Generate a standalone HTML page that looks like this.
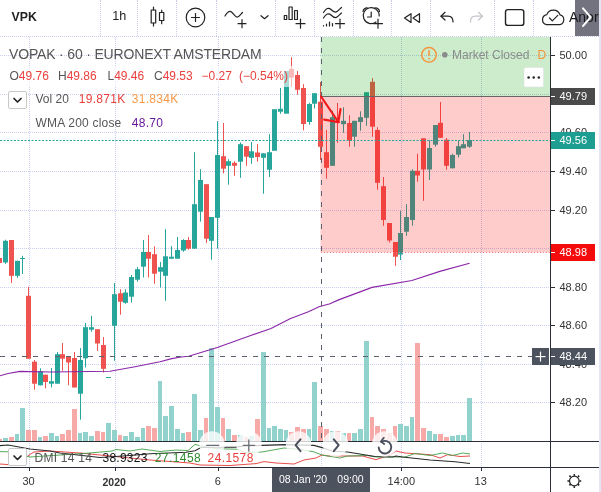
<!DOCTYPE html>
<html lang="en"><head><meta charset="utf-8"><title>VPK chart</title>
<style>
*{box-sizing:border-box;margin:0;padding:0}
html,body{width:601px;height:492px;overflow:hidden;background:#fff}
body{position:relative;font-family:"Liberation Sans",sans-serif;color:#333}
.chart{position:absolute;left:0;top:0}
.t{position:absolute;white-space:nowrap;line-height:1}
.toolbar{position:absolute;left:0;top:0;width:601px;height:37px;background:#fff;border-bottom:1px dotted #c9cbe8}
.sep{position:absolute;top:0;width:0;height:36px;border-left:1px dotted #c9cbe8}
.tbicons{position:absolute;left:0;top:0}
.more{position:absolute;left:575px;top:0;width:24px;height:36px;background:rgba(88,88,104,.84)}
.edge{position:absolute;left:599px;top:0;width:2px;height:492px;background:#e4e7f3}
.gray{color:#555}.red{color:#e8403c}.org{color:#f59a4a}.pur{color:#6a1b9a}.grn{color:#2e8b32}
.lbtn{position:absolute;width:19px;height:18px;border:1px solid #c8c8c8;border-radius:2px;background:#fff}
.plabel{position:absolute;left:551px;width:44px;height:17px;color:#fff;font-size:11px;line-height:17px;padding-left:8.5px}
.pl{position:absolute;left:559.5px;font-size:11px;line-height:1;color:#333}
.tl{position:absolute;top:476.4px;font-size:11px;line-height:1;color:#333;transform:translateX(-50%)}
.legbg{position:absolute;left:8px;top:66px;width:286.5px;height:21px;background:rgba(255,255,255,.6)}
</style></head>
<body>
<svg class="chart" width="601" height="492" viewBox="0 0 601 492">
<g stroke="#c9cff0" stroke-width="1" stroke-dasharray="1 1" shape-rendering="crispEdges">
<line x1="0" y1="55.5" x2="550" y2="55.5"/>
<line x1="0" y1="94.5" x2="550" y2="94.5"/>
<line x1="0" y1="132.5" x2="550" y2="132.5"/>
<line x1="0" y1="171.5" x2="550" y2="171.5"/>
<line x1="0" y1="210.5" x2="550" y2="210.5"/>
<line x1="0" y1="248.5" x2="550" y2="248.5"/>
<line x1="0" y1="287.5" x2="550" y2="287.5"/>
<line x1="0" y1="325.5" x2="550" y2="325.5"/>
<line x1="0" y1="364.5" x2="550" y2="364.5"/>
<line x1="0" y1="402.5" x2="550" y2="402.5"/>
<line x1="29.5" y1="37" x2="29.5" y2="468"/>
<line x1="115.5" y1="37" x2="115.5" y2="468"/>
<line x1="218.5" y1="37" x2="218.5" y2="468"/>
<line x1="401.5" y1="37" x2="401.5" y2="468"/>
<line x1="481.5" y1="37" x2="481.5" y2="468"/>
</g>
<g shape-rendering="crispEdges">
<rect x="0" y="439.2" width="2" height="1.8" fill="#f7a9a7"/>
<rect x="3" y="438.2" width="5" height="2.8" fill="#92d2cc"/>
<rect x="9" y="437.0" width="5" height="4.0" fill="#f7a9a7"/>
<rect x="15" y="434.0" width="4" height="7.0" fill="#92d2cc"/>
<rect x="20" y="407.8" width="5" height="33.2" fill="#92d2cc"/>
<rect x="26" y="430.0" width="5" height="11.0" fill="#f7a9a7"/>
<rect x="32" y="430.0" width="5" height="11.0" fill="#f7a9a7"/>
<rect x="38" y="437.0" width="4" height="4.0" fill="#92d2cc"/>
<rect x="43" y="435.8" width="5" height="5.2" fill="#f7a9a7"/>
<rect x="49" y="433.2" width="5" height="7.8" fill="#92d2cc"/>
<rect x="55" y="435.8" width="4" height="5.2" fill="#92d2cc"/>
<rect x="60" y="434.2" width="5" height="6.8" fill="#f7a9a7"/>
<rect x="66" y="430.0" width="5" height="11.0" fill="#f7a9a7"/>
<rect x="72" y="409.0" width="5" height="32.0" fill="#f7a9a7"/>
<rect x="78" y="433.2" width="4" height="7.8" fill="#92d2cc"/>
<rect x="83" y="432.0" width="5" height="9.0" fill="#92d2cc"/>
<rect x="89" y="436.2" width="5" height="4.8" fill="#92d2cc"/>
<rect x="95" y="431.0" width="5" height="10.0" fill="#f7a9a7"/>
<rect x="101" y="432.0" width="4" height="9.0" fill="#f7a9a7"/>
<rect x="106" y="423.2" width="5" height="17.8" fill="#92d2cc"/>
<rect x="112" y="430.0" width="5" height="11.0" fill="#92d2cc"/>
<rect x="118" y="435.0" width="4" height="6.0" fill="#f7a9a7"/>
<rect x="123" y="436.2" width="5" height="4.8" fill="#92d2cc"/>
<rect x="129" y="432.0" width="5" height="9.0" fill="#92d2cc"/>
<rect x="135" y="437.0" width="5" height="4.0" fill="#92d2cc"/>
<rect x="141" y="428.2" width="4" height="12.8" fill="#92d2cc"/>
<rect x="146" y="426.2" width="5" height="14.8" fill="#f7a9a7"/>
<rect x="152" y="428.2" width="5" height="12.8" fill="#f7a9a7"/>
<rect x="158" y="380.8" width="4" height="60.2" fill="#92d2cc"/>
<rect x="163" y="416.2" width="5" height="24.8" fill="#92d2cc"/>
<rect x="169" y="406.2" width="5" height="34.8" fill="#92d2cc"/>
<rect x="175" y="429.2" width="5" height="11.8" fill="#92d2cc"/>
<rect x="181" y="433.2" width="4" height="7.8" fill="#92d2cc"/>
<rect x="186" y="432.0" width="5" height="9.0" fill="#f7a9a7"/>
<rect x="192" y="394.0" width="5" height="47.0" fill="#92d2cc"/>
<rect x="198" y="430.0" width="5" height="11.0" fill="#92d2cc"/>
<rect x="204" y="418.2" width="4" height="22.8" fill="#f7a9a7"/>
<rect x="209" y="348.0" width="5" height="93.0" fill="#92d2cc"/>
<rect x="215" y="407.0" width="5" height="34.0" fill="#92d2cc"/>
<rect x="221" y="418.2" width="4" height="22.8" fill="#f7a9a7"/>
<rect x="226" y="429.2" width="5" height="11.8" fill="#92d2cc"/>
<rect x="232" y="435.0" width="5" height="6.0" fill="#f7a9a7"/>
<rect x="238" y="435.0" width="5" height="6.0" fill="#92d2cc"/>
<rect x="244" y="437.0" width="4" height="4.0" fill="#f7a9a7"/>
<rect x="249" y="436.0" width="5" height="5.0" fill="#92d2cc"/>
<rect x="255" y="419.2" width="5" height="21.8" fill="#f7a9a7"/>
<rect x="261" y="351.7" width="5" height="89.3" fill="#92d2cc"/>
<rect x="267" y="428.2" width="4" height="12.8" fill="#92d2cc"/>
<rect x="272" y="426.2" width="5" height="14.8" fill="#92d2cc"/>
<rect x="278" y="429.2" width="5" height="11.8" fill="#92d2cc"/>
<rect x="284" y="430.0" width="4" height="11.0" fill="#92d2cc"/>
<rect x="289" y="432.0" width="5" height="9.0" fill="#f7a9a7"/>
<rect x="295" y="427.0" width="5" height="14.0" fill="#f7a9a7"/>
<rect x="301" y="429.2" width="5" height="11.8" fill="#f7a9a7"/>
<rect x="307" y="429.2" width="4" height="11.8" fill="#92d2cc"/>
<rect x="312" y="382.0" width="5" height="59.0" fill="#92d2cc"/>
<rect x="318" y="426.2" width="5" height="14.8" fill="#f7a9a7"/>
<rect x="324" y="429.2" width="5" height="11.8" fill="#f7a9a7"/>
<rect x="330" y="431.2" width="4" height="9.8" fill="#92d2cc"/>
<rect x="335" y="431.2" width="5" height="9.8" fill="#f7a9a7"/>
<rect x="341" y="432.8" width="5" height="8.2" fill="#92d2cc"/>
<rect x="347" y="433.2" width="4" height="7.8" fill="#f7a9a7"/>
<rect x="352" y="433.2" width="5" height="7.8" fill="#92d2cc"/>
<rect x="358" y="429.2" width="5" height="11.8" fill="#92d2cc"/>
<rect x="364" y="341.2" width="5" height="99.8" fill="#92d2cc"/>
<rect x="370" y="417.0" width="4" height="24.0" fill="#f7a9a7"/>
<rect x="375" y="426.2" width="5" height="14.8" fill="#f7a9a7"/>
<rect x="381" y="429.2" width="5" height="11.8" fill="#f7a9a7"/>
<rect x="387" y="433.2" width="5" height="7.8" fill="#f7a9a7"/>
<rect x="393" y="426.2" width="4" height="14.8" fill="#f7a9a7"/>
<rect x="398" y="424.2" width="5" height="16.8" fill="#92d2cc"/>
<rect x="404" y="426.2" width="5" height="14.8" fill="#92d2cc"/>
<rect x="410" y="417.0" width="4" height="24.0" fill="#92d2cc"/>
<rect x="415" y="343.3" width="5" height="97.7" fill="#f7a9a7"/>
<rect x="421" y="428.2" width="5" height="12.8" fill="#f7a9a7"/>
<rect x="427" y="431.2" width="5" height="9.8" fill="#92d2cc"/>
<rect x="433" y="434.2" width="4" height="6.8" fill="#92d2cc"/>
<rect x="438" y="434.2" width="5" height="6.8" fill="#f7a9a7"/>
<rect x="444" y="437.0" width="5" height="4.0" fill="#f7a9a7"/>
<rect x="450" y="436.2" width="5" height="4.8" fill="#92d2cc"/>
<rect x="456" y="435.0" width="4" height="6.0" fill="#92d2cc"/>
<rect x="461" y="435.0" width="5" height="6.0" fill="#92d2cc"/>
<rect x="467" y="398.2" width="5" height="42.8" fill="#92d2cc"/>
</g>
<g>
<rect x="0" y="258.0" width="2" height="5.0" fill="#ef5350"/>
<rect x="5.0" y="239.7" width="1" height="24.1" fill="#26a69a"/>
<rect x="3" y="240.8" width="5" height="21.7" fill="#26a69a"/>
<rect x="11.0" y="240.0" width="1" height="43.0" fill="#ef5350"/>
<rect x="9" y="240.0" width="5" height="35.8" fill="#ef5350"/>
<rect x="17.0" y="260.8" width="1" height="17.0" fill="#26a69a"/>
<rect x="15" y="260.8" width="5" height="15.0" fill="#26a69a"/>
<rect x="22.0" y="255.8" width="1" height="18.2" fill="#26a69a"/>
<rect x="20" y="258.0" width="5" height="1.0" fill="#26a69a"/>
<rect x="28.0" y="286.7" width="1" height="72.0" fill="#ef5350"/>
<rect x="26" y="295.8" width="5" height="62.9" fill="#ef5350"/>
<rect x="34.0" y="360.0" width="1" height="29.7" fill="#ef5350"/>
<rect x="32" y="361.7" width="5" height="22.0" fill="#ef5350"/>
<rect x="40.0" y="368.3" width="1" height="17.0" fill="#26a69a"/>
<rect x="38" y="371.3" width="5" height="14.0" fill="#26a69a"/>
<rect x="45.0" y="374.7" width="1" height="13.6" fill="#ef5350"/>
<rect x="43" y="374.7" width="5" height="7.3" fill="#ef5350"/>
<rect x="51.0" y="368.0" width="1" height="19.5" fill="#26a69a"/>
<rect x="49" y="381.2" width="5" height="2.5" fill="#26a69a"/>
<rect x="57.0" y="352.0" width="1" height="31.7" fill="#26a69a"/>
<rect x="55" y="354.2" width="5" height="29.5" fill="#26a69a"/>
<rect x="62.0" y="343.0" width="1" height="27.8" fill="#ef5350"/>
<rect x="60" y="354.2" width="5" height="4.5" fill="#ef5350"/>
<rect x="68.0" y="356.2" width="1" height="29.1" fill="#ef5350"/>
<rect x="66" y="356.2" width="5" height="6.3" fill="#ef5350"/>
<rect x="74.0" y="352.0" width="1" height="35.5" fill="#ef5350"/>
<rect x="72" y="358.0" width="5" height="29.5" fill="#ef5350"/>
<rect x="80.0" y="348.0" width="1" height="71.7" fill="#26a69a"/>
<rect x="78" y="360.0" width="5" height="33.7" fill="#26a69a"/>
<rect x="85.0" y="323.0" width="1" height="44.5" fill="#26a69a"/>
<rect x="83" y="327.2" width="5" height="31.1" fill="#26a69a"/>
<rect x="91.0" y="315.8" width="1" height="15.9" fill="#26a69a"/>
<rect x="89" y="327.2" width="5" height="2.5" fill="#26a69a"/>
<rect x="97.0" y="329.2" width="1" height="21.6" fill="#ef5350"/>
<rect x="95" y="329.2" width="5" height="14.3" fill="#ef5350"/>
<rect x="103.0" y="337.0" width="1" height="35.5" fill="#ef5350"/>
<rect x="101" y="345.0" width="5" height="23.8" fill="#ef5350"/>
<rect x="106" y="377.0" width="5" height="1.0" fill="#26a69a"/>
<rect x="114.0" y="283.0" width="1" height="77.8" fill="#26a69a"/>
<rect x="112" y="294.2" width="5" height="31.6" fill="#26a69a"/>
<rect x="120.0" y="289.2" width="1" height="25.5" fill="#ef5350"/>
<rect x="118" y="293.3" width="5" height="8.4" fill="#ef5350"/>
<rect x="125.0" y="289.2" width="1" height="14.6" fill="#26a69a"/>
<rect x="123" y="292.5" width="5" height="10.3" fill="#26a69a"/>
<rect x="131.0" y="275.0" width="1" height="27.5" fill="#26a69a"/>
<rect x="129" y="277.0" width="5" height="19.7" fill="#26a69a"/>
<rect x="137.0" y="267.0" width="1" height="14.7" fill="#26a69a"/>
<rect x="135" y="269.2" width="5" height="10.5" fill="#26a69a"/>
<rect x="143.0" y="240.0" width="1" height="37.5" fill="#26a69a"/>
<rect x="141" y="252.0" width="5" height="14.7" fill="#26a69a"/>
<rect x="148.0" y="235.0" width="1" height="42.5" fill="#ef5350"/>
<rect x="146" y="252.0" width="5" height="6.7" fill="#ef5350"/>
<rect x="154.0" y="246.3" width="1" height="37.4" fill="#ef5350"/>
<rect x="152" y="254.2" width="5" height="19.5" fill="#ef5350"/>
<rect x="160.0" y="262.0" width="1" height="25.5" fill="#26a69a"/>
<rect x="158" y="267.2" width="5" height="4.5" fill="#26a69a"/>
<rect x="165.0" y="229.2" width="1" height="71.6" fill="#26a69a"/>
<rect x="163" y="256.3" width="5" height="19.5" fill="#26a69a"/>
<rect x="171.0" y="246.2" width="1" height="12.5" fill="#26a69a"/>
<rect x="169" y="256.7" width="5" height="2.0" fill="#26a69a"/>
<rect x="177.0" y="237.0" width="1" height="21.7" fill="#26a69a"/>
<rect x="175" y="250.0" width="5" height="8.7" fill="#26a69a"/>
<rect x="183.0" y="239.2" width="1" height="12.5" fill="#26a69a"/>
<rect x="181" y="240.0" width="5" height="10.5" fill="#26a69a"/>
<rect x="188.0" y="237.0" width="1" height="12.7" fill="#ef5350"/>
<rect x="186" y="240.0" width="5" height="8.7" fill="#ef5350"/>
<rect x="194.0" y="152.2" width="1" height="96.5" fill="#26a69a"/>
<rect x="192" y="204.2" width="5" height="44.5" fill="#26a69a"/>
<rect x="200.0" y="169.2" width="1" height="52.5" fill="#26a69a"/>
<rect x="198" y="180.0" width="5" height="31.7" fill="#26a69a"/>
<rect x="206.0" y="184.2" width="1" height="58.8" fill="#ef5350"/>
<rect x="204" y="184.2" width="5" height="54.5" fill="#ef5350"/>
<rect x="211.0" y="217.0" width="1" height="42.7" fill="#26a69a"/>
<rect x="209" y="217.0" width="5" height="23.8" fill="#26a69a"/>
<rect x="217.0" y="121.2" width="1" height="127.5" fill="#26a69a"/>
<rect x="215" y="155.0" width="5" height="62.8" fill="#26a69a"/>
<rect x="223.0" y="123.0" width="1" height="50.3" fill="#ef5350"/>
<rect x="221" y="156.2" width="5" height="12.5" fill="#ef5350"/>
<rect x="228.0" y="159.2" width="1" height="25.5" fill="#26a69a"/>
<rect x="226" y="161.2" width="5" height="4.6" fill="#26a69a"/>
<rect x="234.0" y="161.2" width="1" height="14.6" fill="#ef5350"/>
<rect x="232" y="162.8" width="5" height="3.0" fill="#ef5350"/>
<rect x="240.0" y="142.5" width="1" height="35.3" fill="#26a69a"/>
<rect x="238" y="144.2" width="5" height="17.5" fill="#26a69a"/>
<rect x="246.0" y="146.2" width="1" height="19.6" fill="#ef5350"/>
<rect x="244" y="146.2" width="5" height="10.5" fill="#ef5350"/>
<rect x="251.0" y="142.0" width="1" height="21.8" fill="#26a69a"/>
<rect x="249" y="151.3" width="5" height="6.5" fill="#26a69a"/>
<rect x="257.0" y="144.2" width="1" height="17.5" fill="#ef5350"/>
<rect x="255" y="152.5" width="5" height="4.5" fill="#ef5350"/>
<rect x="263.0" y="153.3" width="1" height="40.4" fill="#26a69a"/>
<rect x="261" y="153.3" width="5" height="4.5" fill="#26a69a"/>
<rect x="269.0" y="134.2" width="1" height="42.8" fill="#26a69a"/>
<rect x="267" y="152.2" width="5" height="17.5" fill="#26a69a"/>
<rect x="272" y="109.2" width="5" height="41.6" fill="#26a69a"/>
<rect x="280.0" y="88.0" width="1" height="25.7" fill="#26a69a"/>
<rect x="278" y="108.8" width="5" height="2.9" fill="#26a69a"/>
<rect x="284" y="71.0" width="5" height="42.7" fill="#26a69a"/>
<rect x="291.0" y="57.2" width="1" height="29.5" fill="#ef5350"/>
<rect x="289" y="68.9" width="5" height="8.7" fill="#ef5350"/>
<rect x="297.0" y="71.0" width="1" height="23.7" fill="#ef5350"/>
<rect x="295" y="75.0" width="5" height="14.8" fill="#ef5350"/>
<rect x="303.0" y="84.2" width="1" height="46.1" fill="#ef5350"/>
<rect x="301" y="88.0" width="5" height="36.0" fill="#ef5350"/>
<rect x="309.0" y="102.8" width="1" height="22.0" fill="#26a69a"/>
<rect x="307" y="104.0" width="5" height="18.0" fill="#26a69a"/>
<rect x="314.0" y="93.2" width="1" height="15.3" fill="#26a69a"/>
<rect x="312" y="93.2" width="5" height="10.5" fill="#26a69a"/>
<rect x="320.0" y="82.0" width="1" height="78.0" fill="#ef5350"/>
<rect x="318" y="101.7" width="5" height="45.1" fill="#ef5350"/>
<rect x="326.0" y="130.0" width="1" height="48.7" fill="#ef5350"/>
<rect x="324" y="152.2" width="5" height="15.6" fill="#ef5350"/>
<rect x="332.0" y="110.8" width="1" height="55.0" fill="#26a69a"/>
<rect x="330" y="117.2" width="5" height="48.6" fill="#26a69a"/>
<rect x="337.0" y="103.0" width="1" height="39.8" fill="#ef5350"/>
<rect x="335" y="121.5" width="5" height="1.5" fill="#ef5350"/>
<rect x="343.0" y="107.2" width="1" height="25.6" fill="#26a69a"/>
<rect x="341" y="120.8" width="5" height="3.4" fill="#26a69a"/>
<rect x="349.0" y="115.3" width="1" height="31.4" fill="#ef5350"/>
<rect x="347" y="123.0" width="5" height="17.3" fill="#ef5350"/>
<rect x="354.0" y="120.8" width="1" height="25.9" fill="#26a69a"/>
<rect x="352" y="120.8" width="5" height="15.9" fill="#26a69a"/>
<rect x="360.0" y="111.3" width="1" height="19.5" fill="#26a69a"/>
<rect x="358" y="117.2" width="5" height="4.8" fill="#26a69a"/>
<rect x="366.0" y="92.2" width="1" height="33.6" fill="#26a69a"/>
<rect x="364" y="92.2" width="5" height="25.6" fill="#26a69a"/>
<rect x="372.0" y="78.0" width="1" height="58.7" fill="#ef5350"/>
<rect x="370" y="81.8" width="5" height="44.9" fill="#ef5350"/>
<rect x="377.0" y="127.2" width="1" height="62.5" fill="#ef5350"/>
<rect x="375" y="130.0" width="5" height="52.8" fill="#ef5350"/>
<rect x="383.0" y="177.0" width="1" height="48.8" fill="#ef5350"/>
<rect x="381" y="186.2" width="5" height="33.8" fill="#ef5350"/>
<rect x="389.0" y="223.0" width="1" height="19.5" fill="#ef5350"/>
<rect x="387" y="223.0" width="5" height="17.5" fill="#ef5350"/>
<rect x="395.0" y="242.0" width="1" height="23.8" fill="#ef5350"/>
<rect x="393" y="242.0" width="5" height="14.7" fill="#ef5350"/>
<rect x="400.0" y="210.8" width="1" height="49.2" fill="#26a69a"/>
<rect x="398" y="233.0" width="5" height="21.5" fill="#26a69a"/>
<rect x="406.0" y="204.2" width="1" height="31.6" fill="#26a69a"/>
<rect x="404" y="217.0" width="5" height="14.7" fill="#26a69a"/>
<rect x="412.0" y="169.2" width="1" height="56.6" fill="#26a69a"/>
<rect x="410" y="170.8" width="5" height="49.2" fill="#26a69a"/>
<rect x="417.0" y="153.7" width="1" height="28.0" fill="#ef5350"/>
<rect x="415" y="170.8" width="5" height="4.7" fill="#ef5350"/>
<rect x="423.0" y="138.3" width="1" height="62.5" fill="#ef5350"/>
<rect x="421" y="138.3" width="5" height="31.2" fill="#ef5350"/>
<rect x="429.0" y="140.3" width="1" height="39.7" fill="#26a69a"/>
<rect x="427" y="148.0" width="5" height="21.5" fill="#26a69a"/>
<rect x="435.0" y="125.0" width="1" height="21.7" fill="#26a69a"/>
<rect x="433" y="125.0" width="5" height="19.7" fill="#26a69a"/>
<rect x="440.0" y="102.0" width="1" height="35.8" fill="#ef5350"/>
<rect x="438" y="122.8" width="5" height="15.0" fill="#ef5350"/>
<rect x="446.0" y="138.0" width="1" height="31.7" fill="#ef5350"/>
<rect x="444" y="139.7" width="5" height="26.1" fill="#ef5350"/>
<rect x="452.0" y="153.7" width="1" height="14.6" fill="#26a69a"/>
<rect x="450" y="155.0" width="5" height="13.3" fill="#26a69a"/>
<rect x="458.0" y="140.3" width="1" height="17.2" fill="#26a69a"/>
<rect x="456" y="146.2" width="5" height="8.5" fill="#26a69a"/>
<rect x="463.0" y="134.2" width="1" height="14.1" fill="#26a69a"/>
<rect x="461" y="144.2" width="5" height="4.1" fill="#26a69a"/>
<rect x="469.0" y="132.0" width="1" height="15.8" fill="#26a69a"/>
<rect x="467" y="140.0" width="5" height="6.7" fill="#26a69a"/>
</g>
<polyline points="0.0,375.8 8.0,373.5 20.0,371.4 50.0,372.0 110.0,371.2 135.0,366.7 160.0,361.7 171.7,358.6 181.0,357.0 188.6,356.3 210.0,349.8 218.0,347.2 250.0,335.7 271.0,328.5 290.0,318.7 308.4,311.8 319.0,306.7 330.0,303.8 338.6,299.9 372.0,287.4 411.9,280.5 439.8,271.4 469.6,263.2" fill="none" stroke="#8a27a8" stroke-width="1.15"/>
<rect x="320.5" y="37" width="229.5" height="59" fill="rgba(0,160,0,0.2)"/>
<rect x="320.5" y="96" width="229.5" height="156.5" fill="rgba(255,0,0,0.2)"/>
<line x1="321" y1="96.5" x2="550" y2="96.5" stroke="#666" stroke-width="1"/>
<line x1="321" y1="252.5" x2="550" y2="252.5" stroke="#f08080" stroke-width="1" stroke-dasharray="1 2"/>
<line x1="0" y1="140.5" x2="550" y2="140.5" stroke="#26a69a" stroke-width="1" stroke-dasharray="2 1.5"/>
<line x1="0" y1="356.5" x2="532" y2="356.5" stroke="#5c6170" stroke-width="1" stroke-dasharray="5 6"/>
<line x1="321.5" y1="37" x2="321.5" y2="441" stroke="#5c6170" stroke-width="1" stroke-dasharray="5 6"/>
<line x1="321.5" y1="441" x2="321.5" y2="468" stroke="#c9cff0" stroke-width="1" stroke-dasharray="1 1"/>
<g stroke="#f01818" stroke-width="2.2" stroke-linecap="round" fill="none"><line x1="321" y1="96.5" x2="338.3" y2="122"/><polyline points="324.2,119.7 338.3,122 340.5,109.2"/></g>
<polyline points="0.0,464.0 8.0,464.6 20.0,463.0 29.0,455.0 34.0,452.0 50.0,451.0 80.0,453.0 110.0,456.0 150.0,460.0 190.0,463.0 200.0,465.0 230.0,465.5 256.0,463.6 264.0,461.6 276.0,463.0 294.0,464.0 304.0,460.0 316.0,458.0 322.0,455.0 328.0,456.0 340.0,456.0 362.5,456.0 376.0,459.7 390.0,455.0 396.0,451.0 405.0,453.0 430.0,454.7 440.0,458.0 447.5,454.7 460.0,456.5 470.0,456.0" fill="none" stroke="#e53935" stroke-width="0.9"/>
<polyline points="0.0,451.6 8.0,451.8 30.0,457.0 60.0,455.0 90.0,453.0 112.0,451.0 116.0,449.5 130.0,451.0 142.0,449.0 160.0,451.5 176.0,450.0 188.0,450.6 195.0,444.4 199.0,445.5 215.0,448.5 227.0,449.0 237.0,449.2 245.0,452.5 262.0,452.0 284.0,448.0 300.0,449.5 313.0,451.6 322.0,455.0 340.0,458.0 347.5,456.0 367.5,455.5 376.0,457.0 405.0,457.0 415.0,453.5 430.0,455.5 442.5,453.0 452.5,455.5 462.5,453.0 470.0,454.0" fill="none" stroke="#43a047" stroke-width="0.9"/>
<polyline points="0.0,445.6 8.0,445.0 30.0,449.0 50.0,451.0 60.0,453.0 100.0,457.5 130.0,455.5 150.0,453.8 186.0,452.2 195.0,450.8 201.0,447.5 215.0,447.2 235.0,447.2 245.0,446.0 262.0,445.4 285.0,444.6 314.0,445.4 322.0,447.6 332.0,451.0 347.5,452.0 375.0,456.5 392.5,457.0 396.0,456.0 402.5,457.0 430.0,460.0 455.0,461.8 470.0,463.5" fill="none" stroke="#2a2a2a" stroke-width="1.1"/>
<line x1="0" y1="441.5" x2="601" y2="441.5" stroke="#2a2e39" stroke-width="1" shape-rendering="crispEdges"/>
<circle cx="212" cy="444" r="12.8" fill="rgba(255,255,255,0.78)"/>
<circle cx="249" cy="444" r="12.8" fill="rgba(255,255,255,0.78)"/>
<circle cx="298.5" cy="444" r="12.8" fill="rgba(255,255,255,0.78)"/>
<circle cx="335.5" cy="444" r="12.8" fill="rgba(255,255,255,0.78)"/>
<circle cx="384.7" cy="444" r="12.8" fill="rgba(255,255,255,0.78)"/>
<g stroke="#4a4f5c" stroke-width="1.6" fill="none" stroke-linecap="round" stroke-linejoin="round">
<line x1="206.7" y1="445.4" x2="218.7" y2="445.4" stroke="#6a6e78" stroke-width="1.3"/>
<g stroke="#6a6e78" stroke-width="1.3"><line x1="243.3" y1="445.4" x2="254.7" y2="445.4"/><line x1="248.8" y1="440" x2="248.8" y2="451.2"/></g>
<polyline points="300.5,439.3 295.6,445.2 300.5,451.2" stroke-width="2"/>
<polyline points="333.8,439.3 338.7,445.2 333.8,451.2" stroke-width="2"/>
<path d="M381.4 442 A6.3 6.3 0 1 1 378.7 447.4" stroke-width="1.9"/><polyline points="383.8,437.8 380.9,441.6 384.2,444" stroke-width="1.7"/>
</g>
<g shape-rendering="crispEdges" stroke="#2a2e39" stroke-width="1">
<line x1="0" y1="467.5" x2="601" y2="467.5"/>
<line x1="550.5" y1="37" x2="550.5" y2="492"/>
<line x1="551" y1="55.5" x2="555" y2="55.5"/>
<line x1="551" y1="94.5" x2="555" y2="94.5"/>
<line x1="551" y1="132.5" x2="555" y2="132.5"/>
<line x1="551" y1="171.5" x2="555" y2="171.5"/>
<line x1="551" y1="210.5" x2="555" y2="210.5"/>
<line x1="551" y1="248.5" x2="555" y2="248.5"/>
<line x1="551" y1="287.5" x2="555" y2="287.5"/>
<line x1="551" y1="325.5" x2="555" y2="325.5"/>
<line x1="551" y1="364.5" x2="555" y2="364.5"/>
<line x1="551" y1="402.5" x2="555" y2="402.5"/>
<line x1="29.5" y1="468" x2="29.5" y2="471"/>
<line x1="115.5" y1="468" x2="115.5" y2="471"/>
<line x1="218.5" y1="468" x2="218.5" y2="471"/>
<line x1="401.5" y1="468" x2="401.5" y2="471"/>
<line x1="481.5" y1="468" x2="481.5" y2="471"/>
</g>
</svg>
<div class="toolbar"><div class="sep" style="left:100px"></div><div class="sep" style="left:137px"></div><div class="sep" style="left:176px"></div><div class="sep" style="left:216px"></div><div class="sep" style="left:275px"></div><div class="sep" style="left:314px"></div><div class="sep" style="left:353px"></div><div class="sep" style="left:391px"></div><div class="sep" style="left:430px"></div><div class="sep" style="left:494px"></div><div class="sep" style="left:533px"></div><span class="t" style="left:11.5px;top:10.8px;font-size:12.3px;font-weight:bold;color:#222">VPK</span>
<span class="t" style="left:112.3px;top:10px;font-size:12.6px;color:#222">1h</span>
<svg class="tbicons" width="601" height="37" viewBox="0 0 601 37" fill="none" stroke="#222" stroke-width="1.2" stroke-linecap="round" stroke-linejoin="round">
<g><rect x="151.2" y="10" width="4.5" height="13"/><line x1="153.5" y1="7" x2="153.5" y2="10"/><line x1="153.5" y1="23" x2="153.5" y2="26"/><rect x="159.5" y="12.5" width="4.3" height="8"/><line x1="161.7" y1="10" x2="161.7" y2="12.5"/><line x1="161.7" y1="20.5" x2="161.7" y2="23.7"/></g>
<g><circle cx="195.5" cy="17.5" r="9.3"/><line x1="191.5" y1="17.5" x2="199.5" y2="17.5"/><line x1="195.5" y1="13.5" x2="195.5" y2="21.5"/></g>
<g><path d="M225 16 C227 12 229.5 10.5 231.5 12 C234 14 235.5 17.5 237.5 17 C239.5 16.5 241 14 242.5 12.5"/><line x1="238" y1="23.7" x2="246" y2="23.7"/><line x1="242" y1="19.7" x2="242" y2="27.7"/><polyline points="261,15.7 264.5,18.7 268,15.7"/></g>
<g><rect x="284.3" y="15.5" width="2.4" height="4"/><rect x="289" y="7" width="3.2" height="12.5"/><rect x="294.6" y="10.5" width="2.8" height="9"/><line x1="296" y1="23.7" x2="305" y2="23.7"/><line x1="300.5" y1="19.2" x2="300.5" y2="28.2"/></g>
<g><path d="M323.5 12.5 C326 8.5 328.5 7 331 9.5 C333 11.5 335 13 337 11.5 C339 10 340 8.5 341.5 7.5"/><path d="M323.5 18 C326 14 328.5 12.5 331 15 C333 17 335 18.5 337 17 C339 15.5 340 14 341.5 13"/><line x1="323.5" y1="25.5" x2="323.5" y2="26"/><line x1="326.5" y1="24" x2="326.5" y2="26"/><line x1="329.5" y1="22" x2="329.5" y2="26"/><line x1="332.5" y1="23.5" x2="332.5" y2="26"/><line x1="335.5" y1="23.7" x2="344.5" y2="23.7"/><line x1="340" y1="19.2" x2="340" y2="28.2"/></g>
<g><path d="M376 22 A8 8 0 1 1 379.2 16"/><polyline points="371.2,12 371.2,17 367.5,17"/><path d="M363 11.5 A4 4 0 0 1 367.5 8"/><path d="M375 8 A4 4 0 0 1 379.5 11.5"/><line x1="373.5" y1="23.7" x2="382.5" y2="23.7"/><line x1="378" y1="19.2" x2="378" y2="28.2"/></g>
<g><polygon points="411,13.7 411,22.5 404.5,18.1"/><polygon points="419.5,13.7 419.5,22.5 413,18.1"/></g>
<g><polyline points="445,12.3 441,16.2 445,20"/><path d="M441 16.2 H448 C451 16.2 453 18.5 453 22"/></g>
<g stroke="#c4c6cc"><polyline points="478.5,12.3 482.5,16.2 478.5,20"/><path d="M482.5 16.2 H475.5 C472.5 16.2 470.5 18.5 470.5 22"/></g>
<rect x="505.5" y="9.6" width="18.3" height="15.8" rx="2.5" stroke-width="1.4"/>
<g><path d="M546.5 24.6 H559.5 A5 5 0 0 0 560 14.8 A7 7 0 0 0 546.8 14.6 A5.1 5.1 0 0 0 546.5 24.6 Z"/><polyline points="549.5,18 552.3,20.8 557.8,15.3"/></g>
</svg>
<div class="more"></div>
<span class="t" style="left:569px;top:10px;font-size:14px;color:#1a1a1a;width:30px;overflow:hidden">Anor</span>
<svg style="position:absolute;left:575px;top:0" width="24" height="36" viewBox="0 0 24 36" fill="none" stroke="#fff" stroke-width="1.9" stroke-linecap="round" stroke-linejoin="round"><polyline points="8,8.3 15.7,17.2 8,26"/></svg>
</div>
<div class="legbg"></div>
<span class="t gray" style="left:9px;top:46.6px;font-size:14px;letter-spacing:-0.17px" id="l1">VOPAK &#183; 60 &#183; EURONEXT AMSTERDAM</span>
<span class="t" style="left:9.5px;top:69.5px;font-size:12px"><span class="gray">O</span><span class="red">49.76</span></span>
<span class="t" style="left:58px;top:69.5px;font-size:12px"><span class="gray">H</span><span class="red">49.86</span></span>
<span class="t" style="left:107.5px;top:69.5px;font-size:12px"><span class="gray">L</span><span class="red">49.46</span></span>
<span class="t" style="left:154px;top:69.5px;font-size:12px"><span class="gray">C</span><span class="red">49.53</span></span>
<span class="t red" style="left:201.5px;top:69.5px;font-size:12px">&#8722;0.27</span>
<span class="t red" style="left:239px;top:69.5px;font-size:12px" id="l2e">(&#8722;0.54%)</span>
<div class="lbtn" style="left:8px;top:91px"><svg width="17" height="16" viewBox="0 0 17 16" fill="none" stroke="#222" stroke-width="1.7" stroke-linecap="round" stroke-linejoin="round"><polyline points="5,6.5 8.5,10 12,6.5"/></svg></div>
<span class="t gray" style="left:35.5px;top:92.8px;font-size:12px" id="v1">Vol 20</span>
<span class="t red" style="left:78.7px;top:92.8px;font-size:12px;letter-spacing:0.3px" id="v2">19.871K</span>
<span class="t org" style="left:131.7px;top:92.8px;font-size:12px;letter-spacing:0.3px" id="v3">31.834K</span>
<span class="t gray" style="left:35.5px;top:117.1px;font-size:12px;letter-spacing:0.2px" id="w1">WMA 200 close</span>
<span class="t pur" style="left:131.7px;top:117.1px;font-size:12px;letter-spacing:0.3px" id="w2">48.70</span>
<div class="lbtn" style="left:8px;top:448px"><svg width="17" height="16" viewBox="0 0 17 16" fill="none" stroke="#222" stroke-width="1.7" stroke-linecap="round" stroke-linejoin="round"><polyline points="5,7 8.5,10.5 12,7"/></svg></div>
<span class="t gray" style="left:34.5px;top:451.8px;font-size:12px;letter-spacing:0.25px" id="d1">DMI 14 14</span>
<span class="t" style="left:102.5px;top:451.8px;font-size:12px;letter-spacing:0.25px;color:#111" id="d2">38.9323</span>
<span class="t grn" style="left:154.7px;top:451.8px;font-size:12px;letter-spacing:0.45px" id="d3">27.1458</span>
<span class="t red" style="left:207.6px;top:451.8px;font-size:12px;letter-spacing:0.4px" id="d4">24.1578</span>

<svg class="chart" width="601" height="492" viewBox="0 0 601 492" fill="none"><circle cx="429" cy="54.8" r="7.3" stroke="#f5933a" stroke-width="1.4"/><line x1="429" y1="50.3" x2="429" y2="56" stroke="#f5933a" stroke-width="1.5"/><circle cx="429" cy="58.7" r="0.9" fill="#f5933a"/><circle cx="444.8" cy="54.8" r="2.8" fill="#8a8a8a"/>
<rect x="524" y="67.5" width="19.5" height="19.5" rx="1.5" fill="#fff" stroke="#e0e0e0" stroke-width="0.6"/><circle cx="528.6" cy="77.6" r="1.25" fill="#222"/><circle cx="533.7" cy="77.6" r="1.25" fill="#222"/><circle cx="538.8" cy="77.6" r="1.25" fill="#222"/></svg>
<span class="t" style="left:452px;top:49px;font-size:12px;color:#8a8a8a" id="mc">Market Closed</span>
<span class="t" style="left:537.5px;top:49px;font-size:12px;color:#f5933a">D</span>

<span class="pl" style="top:50.3px">50.00</span><span class="pl" style="top:165.9px">49.40</span><span class="pl" style="top:204.5px">49.20</span><span class="pl" style="top:281.5px">48.80</span><span class="pl" style="top:320.1px">48.60</span><span class="pl" style="top:397.2px">48.20</span><span class="pl" style="top:127.4px">49.60</span><span class="pl" style="top:358.6px">48.40</span><div class="plabel" style="top:88px;background:#4a4a4a">49.79</div>
<div class="plabel" style="top:132px;background:#1e9e90">49.56</div>
<div class="plabel" style="top:244px;background:#f40b0b">48.98</div>
<div class="plabel" style="top:348px;background:#4c525e">48.44</div>
<div style="position:absolute;left:532px;top:348px;width:17px;height:17px;background:#4c525e"><svg width="17" height="17" viewBox="0 0 17 17" stroke="#fff" stroke-width="1.2"><line x1="3.5" y1="8.6" x2="13.5" y2="8.6"/><line x1="8.5" y1="3.6" x2="8.5" y2="13.6"/></svg></div>
<svg class="chart" width="601" height="492" viewBox="0 0 601 492" shape-rendering="crispEdges"><g stroke="#fff" stroke-width="1"><line x1="551" y1="96.5" x2="555" y2="96.5"/><line x1="551" y1="140.5" x2="555" y2="140.5"/><line x1="551" y1="252.5" x2="555" y2="252.5"/><line x1="551" y1="356.5" x2="555" y2="356.5"/></g></svg>

<span class="tl" style="left:28.6px">30</span><span class="tl" style="left:114.2px;font-weight:bold;font-size:10.5px;top:476.8px">2020</span><span class="tl" style="left:217.8px">6</span><span class="tl" style="left:401.3px">14:00</span><span class="tl" style="left:480.7px">13</span>
<div style="position:absolute;left:272px;top:468px;width:98px;height:24px;background:#4c525e"></div>
<span class="t" style="left:279px;top:473.7px;font-size:10.5px;color:#fff" id="ct1">08 Jan '20</span><span class="t" style="left:337.3px;top:473.7px;font-size:10.5px;color:#fff" id="ct2">09:00</span>
<svg class="chart" width="601" height="492" viewBox="0 0 601 492" fill="none" stroke="#222" stroke-width="1.2"><circle cx="574.3" cy="481" r="4.8"/><g stroke-width="1.5"><line x1="574.3" y1="474" x2="574.3" y2="475.8"/><line x1="574.3" y1="486.2" x2="574.3" y2="488"/><line x1="567.4" y1="481" x2="569.2" y2="481"/><line x1="579.4" y1="481" x2="581.2" y2="481"/><line x1="569.4" y1="475.6" x2="570.7" y2="476.9"/><line x1="577.9" y1="484.1" x2="579.2" y2="485.4"/><line x1="569.4" y1="485.4" x2="570.7" y2="484.1"/><line x1="577.9" y1="476.9" x2="579.2" y2="475.6"/></g></svg>

<div class="edge"></div>
</body></html>
